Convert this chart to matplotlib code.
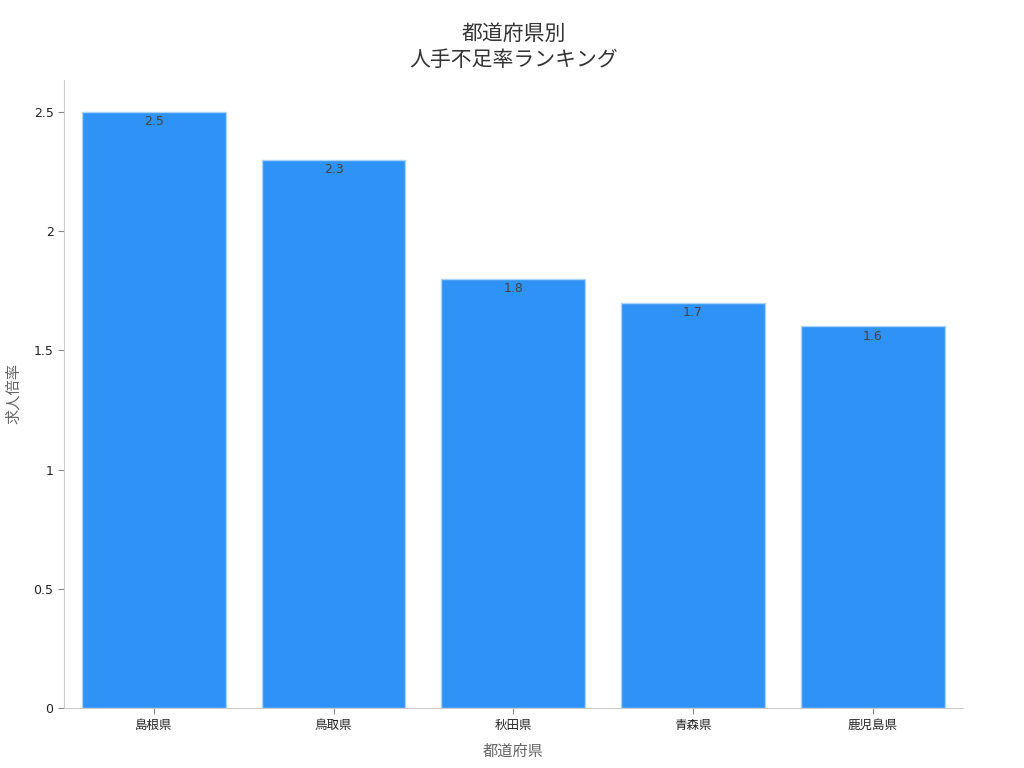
import matplotlib.pyplot as plt

plt.rcParams['font.family'] = ['DejaVu Sans', 'Noto Sans CJK JP']

# data
prefectures = ['島根県', '鳥取県', '秋田県', '青森県', '鹿児島県']
ratios = [2.5, 2.3, 1.8, 1.7, 1.6]

fig = plt.figure(figsize=(10.24, 7.68), dpi=100)
ax = fig.add_axes([0.0625, 0.078, 0.8775, 0.818])

bars = ax.bar(range(len(prefectures)), ratios, width=0.8,
              color='#2E92F6', edgecolor='#A9D3FA', linewidth=1)
for b, v in zip(bars, ratios):
    ax.text(b.get_x() + b.get_width() / 2, v - 0.015, f'{v}',
            ha='center', va='top', fontsize=9, color='#444444')

ax.set_xticks(range(len(prefectures)))
ax.set_xticklabels(prefectures)
ax.set_xlim(-0.5, 4.5)
ax.set_ylim(0, 2.634)
ax.set_yticks([0, 0.5, 1, 1.5, 2, 2.5])
ax.set_yticklabels(['0', '0.5', '1', '1.5', '2', '2.5'])

for s in ['top', 'right']:
    ax.spines[s].set_visible(False)
for s in ['left', 'bottom']:
    ax.spines[s].set_color('#CCCCCC')
ax.tick_params(colors='#888888', labelcolor='#222222', labelsize=9, length=4)

ax.set_xlabel('都道府県', fontsize=11, color='#666666', labelpad=9)
ax.set_ylabel('求人倍率', fontsize=11, color='#666666', labelpad=9)
ax.set_title('都道府県別\n人手不足率ランキング', fontsize=15, color='#333333',
             pad=10, linespacing=1.4)

fig.savefig('out.png', dpi=100)
